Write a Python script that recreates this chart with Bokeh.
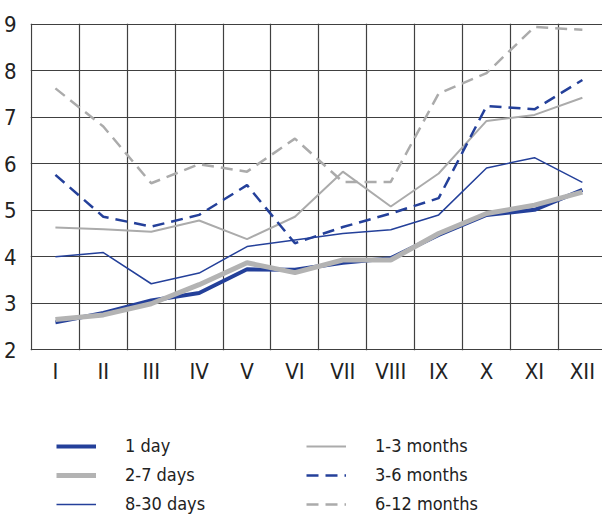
from bokeh.plotting import figure
from bokeh.models import FixedTicker, Legend, LegendItem, Range1d
from bokeh.layouts import column
from bokeh.embed import file_html
from bokeh.resources import INLINE

# ---- data ----
months = ["I", "II", "III", "IV", "V", "VI", "VII", "VIII", "IX", "X", "XI", "XII"]
one_day = [2.59, 2.79, 3.06, 3.22, 3.73, 3.72, 3.87, 3.97, 4.47, 4.90, 5.01, 5.44]
two_seven_days = [2.65, 2.75, 2.99, 3.40, 3.87, 3.66, 3.93, 3.93, 4.50, 4.93, 5.11, 5.39]
eight_thirty_days = [4.00, 4.09, 3.42, 3.65, 4.22, 4.36, 4.50, 4.58, 4.90, 5.91, 6.13, 5.60]
one_three_months = [4.63, 4.59, 4.54, 4.78, 4.38, 4.86, 5.83, 5.08, 5.79, 6.92, 7.05, 7.42]
three_six_months = [5.76, 4.86, 4.65, 4.90, 5.54, 4.29, 4.64, 4.93, 5.26, 7.24, 7.17, 7.80]
six_twelve_months = [7.62, 6.80, 5.58, 5.99, 5.83, 6.54, 5.61, 5.61, 7.51, 7.95, 8.94, 8.88]
y_ticks = [2, 3, 4, 5, 6, 7, 8, 9]
series_names = ["1 day", "2-7 days", "8-30 days", "1-3 months", "3-6 months", "6-12 months"]

# ---- styling ----
FONT = "'Liberation Sans Narrow', 'DejaVu Sans Condensed', 'Roboto Condensed', Roboto, sans-serif"
BLUE = "#24409a"
GREY_THICK = "#b3b3b3"
GREY = "#ababab"
styles = {
    "1 day": dict(line_color=BLUE, line_width=4),
    "2-7 days": dict(line_color=GREY_THICK, line_width=5),
    "8-30 days": dict(line_color=BLUE, line_width=1.5),
    "1-3 months": dict(line_color=GREY, line_width=2),
    "3-6 months": dict(line_color=BLUE, line_width=2.5, line_dash="12 7"),
    "6-12 months": dict(line_color=GREY, line_width=2.5, line_dash="12 7"),
}
values = dict(zip(series_names, [one_day, two_seven_days, eight_thirty_days,
                                 one_three_months, three_six_months, six_twelve_months]))
draw_order = ["1-3 months", "6-12 months", "3-6 months", "8-30 days", "1 day", "2-7 days"]

x = [i + 0.5 for i in range(len(months))]
band_edges = list(range(len(months) + 1))

# ---- main chart ----
p = figure(width=602, height=400, output_backend="svg", toolbar_location=None,
           x_range=Range1d(-0.02, 11.92), y_range=Range1d(1.985, 9.015),
           min_border_left=30, min_border_right=0, min_border_top=23,
           min_border_bottom=50)
p.outline_line_color = None
p.background_fill_color = "white"
p.border_fill_color = "white"

p.xgrid.ticker = FixedTicker(ticks=band_edges)
p.ygrid.ticker = FixedTicker(ticks=y_ticks)
for g in (p.xgrid, p.ygrid):
    g.grid_line_color = "#404040"
    g.grid_line_width = 1.2

p.xaxis.ticker = FixedTicker(ticks=x)
p.xaxis.major_label_overrides = {xi: m for xi, m in zip(x, months)}
p.yaxis.ticker = FixedTicker(ticks=y_ticks)
for ax in (p.xaxis, p.yaxis):
    ax.axis_line_color = None
    ax.major_tick_line_color = None
    ax.minor_tick_line_color = None
    ax.major_label_text_font = FONT
    ax.major_label_text_color = "#222222"
p.xaxis.major_label_text_font_size = "22px"
p.yaxis.major_label_text_font_size = "22px"
p.xaxis.major_label_standoff = 2
p.yaxis.major_label_standoff = 8

for name in draw_order:
    p.line(x, values[name], **styles[name])

# ---- legend panel: the same series, drawn outside its (empty) view, supply the samples ----
leg = figure(width=602, height=116, output_backend="svg", toolbar_location=None,
             x_range=Range1d(0, 1), y_range=Range1d(0, 1),
             x_axis_location=None, y_axis_location=None,
             min_border_left=0, min_border_right=0, min_border_top=0, min_border_bottom=0)
leg.outline_line_color = None
leg.xgrid.visible = False
leg.ygrid.visible = False
leg.background_fill_color = "white"
leg.border_fill_color = "white"

proxies = {name: leg.line(x, values[name], **styles[name]) for name in series_names}

def make_legend(names, loc):
    return Legend(items=[LegendItem(label=n, renderers=[proxies[n]]) for n in names],
                  location=loc, orientation="vertical",
                  glyph_width=40, glyph_height=20, label_height=20,
                  label_standoff=29, spacing=8, padding=0, margin=0,
                  border_line_color=None, background_fill_alpha=0,
                  label_text_font=FONT, label_text_font_size="18px",
                  label_text_color="#222222")

leg.add_layout(make_legend(series_names[:3], (26, 2)), "center")
leg.add_layout(make_legend(series_names[3:], (276, 2)), "center")

open("out.html", "w").write(file_html(column(p, leg, spacing=0), INLINE))
